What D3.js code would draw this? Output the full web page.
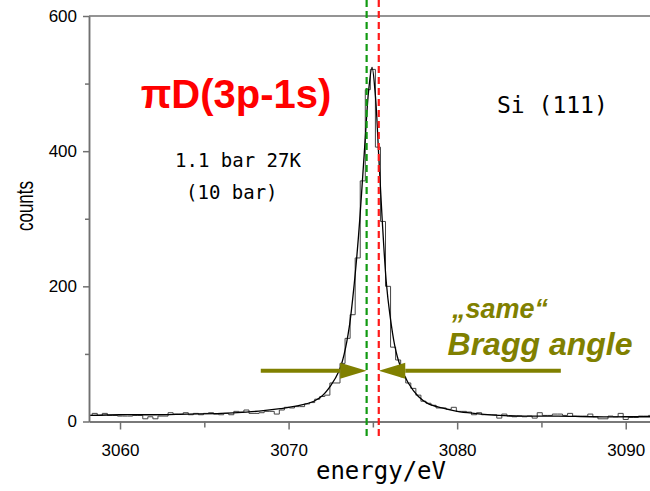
<!DOCTYPE html>
<html>
<head>
<meta charset="utf-8">
<script src="https://cdn.jsdelivr.net/npm/d3@7"></script>
<style>
  body { margin: 0; background: #fff; }
  svg { display: block; }
</style>
</head>
<body>
<svg id="chart" width="650" height="491"></svg>
<script>
// histogram bins (energy of first bin edge, bin width in eV) and counts per bin
const binStart = 3058.05;
const binWidth = 0.3;
const histCounts = [
   9, 12,  9, 12,  9,  9,  8,  8,  8,  9,
   9,  4,  7,  4,  8,  8, 13, 11, 11, 13,
  10, 12, 10, 12, 13, 11, 10, 12, 10, 15,
  14, 17, 12, 12, 13, 15, 15, 11, 17, 21,
  20, 22, 22, 26, 28, 33, 37, 39, 57, 57,
  86,123,158,242,356,491,521,406,296,200,
 110, 91, 66, 57, 49, 39, 30, 27, 24, 20,
  20, 18, 21, 15, 15, 14, 10, 13, 10, 10,
  10,  5, 11,  8,  7,  8,  7,  8,  5, 13,
   9,  9, 11, 11,  9, 12,  8,  8,  8, 11,
   7,  4,  4,  8,  7, 12,  3,  6,  6,  8,
   8,  9
];

// fitted line shape
const fitEnergy = [3058.2, 3060, 3062, 3064, 3066, 3067.5, 3068.5, 3069.5, 3070.5, 3071.5,
                   3072, 3072.5, 3073, 3073.3, 3073.6, 3073.9, 3074.15, 3074.35, 3074.55, 3074.75,
                   3074.95, 3075.15, 3075.35, 3075.55, 3075.8, 3076.0, 3076.3, 3076.6, 3077.1, 3077.7,
                   3078.3, 3079.1, 3080, 3081, 3082.5, 3084, 3086, 3088, 3090, 3091.5];
const fitCounts = [9, 10, 10, 11, 12, 14, 16, 19, 23, 30,
                   38, 53, 75, 100, 140, 205, 275, 345, 420, 490,
                   524, 482, 392, 300, 205, 160, 112, 84, 57, 37,
                   26, 20, 15, 12, 9, 8, 8, 7, 7, 7];

const xTicks = [3060, 3070, 3080, 3090];
const xMinorTicks = [3065, 3075, 3085];
const yTicks = [0, 200, 400, 600];
const yMinorTicks = [100, 300, 500];

const greenLineE = 3074.63;   // marker lines
const redLineE = 3075.35;
const arrowCount = 75;        // height of the arrows
const arrowLeftFrom = 3068.35;
const arrowRightFrom = 3086.15;

const svg = d3.select("#chart");
const W = 650, H = 491;
const plotLeft = 89, plotTop = 16, plotBottom = 421.5;

const x = d3.scaleLinear().domain([3058.16, 3091.44]).range([plotLeft, W]);
const y = d3.scaleLinear().domain([0, 600]).range([plotBottom, plotTop]);

const axisCol = "#707070";

svg.append("defs").append("clipPath").attr("id", "plotclip")
  .append("rect").attr("x", plotLeft).attr("y", 0).attr("width", W - plotLeft).attr("height", plotBottom);

// histogram as steps
const histPts = histCounts.map((c, i) => [binStart + i * binWidth, c]);
histPts.push([binStart + histCounts.length * binWidth, histCounts[histCounts.length - 1]]);
const stepLine = d3.line()
  .x(d => x(d[0]))
  .y(d => y(d[1]))
  .curve(d3.curveStepAfter);

svg.append("path")
  .attr("clip-path", "url(#plotclip)")
  .attr("d", stepLine(histPts))
  .style("fill", "none")
  .style("stroke", "#444")
  .style("stroke-width", 1);

// fit curve
const fitLine = d3.line()
  .x((d, i) => x(fitEnergy[i]))
  .y(d => y(d))
  .curve(d3.curveCatmullRom.alpha(0.5));

svg.append("path")
  .attr("clip-path", "url(#plotclip)")
  .attr("d", fitLine(fitCounts))
  .style("fill", "none")
  .style("stroke", "#000")
  .style("stroke-width", 1.3);

// axes
svg.append("g")
  .attr("transform", `translate(${plotLeft},0)`)
  .call(d3.axisLeft(y).tickValues(yTicks).tickSize(6).tickSizeOuter(0).tickPadding(6));
svg.append("g")
  .attr("transform", `translate(${plotLeft},0)`)
  .call(d3.axisLeft(y).tickValues(yMinorTicks).tickSize(4).tickSizeOuter(0).tickFormat(""));

svg.append("g")
  .attr("transform", `translate(0,${plotBottom})`)
  .call(d3.axisBottom(x).tickValues(xTicks).tickSize(8).tickSizeOuter(0).tickPadding(14)
    .tickFormat(d3.format("d")));
svg.append("g")
  .attr("transform", `translate(0,${plotBottom})`)
  .call(d3.axisBottom(x).tickValues(xMinorTicks).tickSize(6).tickSizeOuter(0).tickFormat(""));

svg.selectAll(".domain, .tick line")
  .style("stroke", axisCol)
  .style("stroke-width", 1.5);
svg.selectAll(".tick text")
  .style("font-family", "'Liberation Sans', Arial, sans-serif")
  .style("font-size", "17px")
  .style("fill", "#000");

// top frame line
svg.append("line")
  .attr("x1", plotLeft).attr("x2", W)
  .attr("y1", plotTop).attr("y2", plotTop)
  .style("stroke", axisCol).style("stroke-width", 1.5);

// dashed marker lines
[[greenLineE, "#119a11"], [redLineE, "#ff1a1a"]].forEach(([e, col]) => {
  svg.append("line")
    .attr("x1", x(e)).attr("x2", x(e))
    .attr("y1", 0).attr("y2", 436)
    .style("stroke", col)
    .style("stroke-width", 2.2)
    .style("stroke-dasharray", "7,4");
});

// arrows
const olive = "#808000";
const ay = y(arrowCount);
function arrow(fromE, toE) {
  const x0 = x(fromE), x1 = x(toE);
  const dir = x1 > x0 ? 1 : -1;
  const headLen = 26.5, headHalf = 8;
  svg.append("line")
    .attr("x1", x0).attr("x2", x1 - dir * headLen)
    .attr("y1", ay).attr("y2", ay)
    .style("stroke", olive).style("stroke-width", 4);
  svg.append("path")
    .attr("d", `M${x1},${ay} L${x1 - dir * headLen},${ay - headHalf} L${x1 - dir * headLen},${ay + headHalf} Z`)
    .style("fill", olive);
}
arrow(arrowLeftFrom, greenLineE);
arrow(arrowRightFrom, redLineE);

// text
const sans = "'Liberation Sans', Arial, sans-serif";
const mono = "'DejaVu Sans Mono', 'Liberation Mono', monospace";
function label(txt, px, py, opts) {
  const t = svg.append("text")
    .attr("x", px).attr("y", py)
    .text(txt)
    .style("font-family", opts.font || sans)
    .style("font-size", (opts.size || 17) + "px")
    .style("fill", opts.fill || "#000")
    .attr("text-anchor", opts.anchor || "start");
  if (opts.weight) t.style("font-weight", opts.weight);
  if (opts.italic) t.style("font-style", "italic");
  if (opts.rotate) t.attr("transform", `rotate(${opts.rotate},${px},${py})`);
  if (opts.len) t.attr("textLength", opts.len).attr("lengthAdjust", "spacingAndGlyphs");
  return t;
}

label("counts", 33, 206, { size: 23, anchor: "middle", rotate: -90, len: 50 });
label("energy/eV", 381, 479, { size: 24, font: mono, anchor: "middle" });

label("πD(3p-1s)", 236, 108, { size: 40, weight: "bold", fill: "#ff0000", anchor: "middle" });
label("1.1 bar 27K", 175, 167, { size: 19, font: mono });
label("(10 bar)", 186, 199, { size: 19, font: mono });
label("Si (111)", 497, 113, { size: 23, font: mono });

label("\u201Esame\u201C", 500, 318, { size: 27, weight: "bold", italic: true, fill: olive, anchor: "middle" });
label("Bragg angle", 540, 355, { size: 32, weight: "bold", italic: true, fill: olive, anchor: "middle" });
</script>
</body>
</html>
